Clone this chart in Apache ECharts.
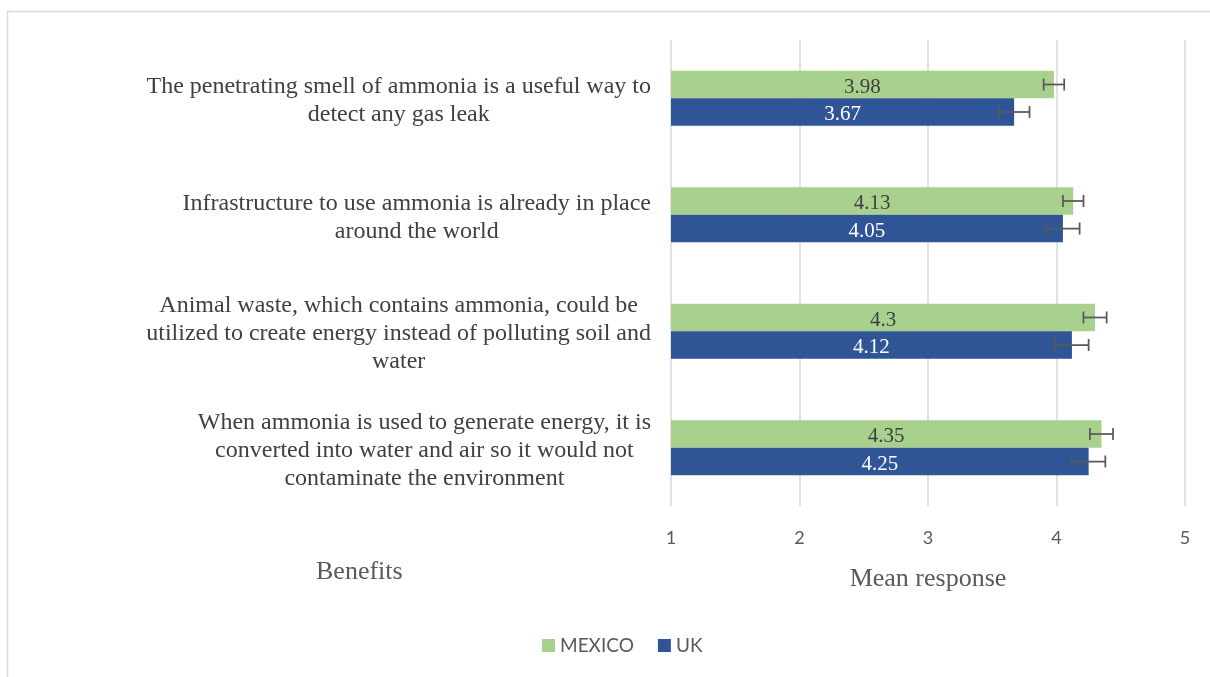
<!DOCTYPE html>
<html>
<head>
<meta charset="utf-8">
<script src="https://cdn.jsdelivr.net/npm/echarts@6/dist/echarts.min.js"></script>
<style>
  html, body { margin: 0; padding: 0; background: #ffffff; }
  #chart { width: 1210px; height: 677px; }
</style>
</head>
<body>
<div id="chart"></div>
<script>
// Survey statements (one per category row, top to bottom)
const categories = [
  'The penetrating smell of ammonia is a useful way to\ndetect any gas leak',
  'Infrastructure to use ammonia is already in place\naround the world',
  'Animal waste, which contains ammonia, could be\nutilized to create energy instead of polluting soil and\nwater',
  'When ammonia is used to generate energy, it is\nconverted into water and air so it would not\ncontaminate the environment'
];
const seriesNames = ['MEXICO', 'UK'];
const mexicoMeans = [3.98, 4.13, 4.3, 4.35];
const ukMeans = [3.67, 4.05, 4.12, 4.25];
// Error margins (±) drawn as whiskers on each bar
const mexicoErr = [0.08, 0.08, 0.09, 0.09];
const ukErr = [0.12, 0.13, 0.13, 0.13];
const xTicks = [1, 2, 3, 4, 5];

const colors = { mexico: '#a9d18e', uk: '#2f5597' };
const BAR_W = 27.5;

const chart = echarts.init(document.getElementById('chart'), null, { renderer: 'canvas' });

function errorSeries(name, means, errs, offsetSign) {
  return {
    type: 'custom',
    name: name + ' error',
    z: 5,
    silent: true,
    legendHoverLink: false,
    data: means.map((m, i) => [i, m - errs[i], m + errs[i]]),
    encode: { x: [1, 2], y: 0 },
    renderItem: function (params, api) {
      const cat = api.value(0);
      const lo = api.coord([api.value(1), cat]);
      const hi = api.coord([api.value(2), cat]);
      const y = lo[1] + offsetSign * BAR_W / 2;
      const cap = 6;
      const style = { stroke: '#595959', lineWidth: 1.75 };
      return {
        type: 'group',
        children: [
          { type: 'line', shape: { x1: lo[0], y1: y, x2: hi[0], y2: y }, style },
          { type: 'line', shape: { x1: lo[0], y1: y - cap, x2: lo[0], y2: y + cap }, style },
          { type: 'line', shape: { x1: hi[0], y1: y - cap, x2: hi[0], y2: y + cap }, style }
        ]
      };
    }
  };
}

const serifFont = '"Liberation Serif", "Times New Roman", serif';
const sansFont = 'Lato, "Open Sans", sans-serif';

chart.setOption({
  animation: false,
  backgroundColor: '#ffffff',
  grid: { left: 671, right: 25, top: 40, bottom: 171, containLabel: false },
  legend: {
    data: seriesNames,
    bottom: 17,
    left: 537,
    itemWidth: 13,
    itemHeight: 13,
    itemGap: 24,
    icon: 'rect',
    textStyle: { fontFamily: sansFont, fontSize: 19, color: '#595959' }
  },
  xAxis: {
    type: 'value',
    min: 1,
    max: 5,
    interval: 1,
    name: 'Mean response',
    nameLocation: 'middle',
    nameGap: 60,
    nameTextStyle: { fontFamily: serifFont, fontSize: 26, color: '#595959' },
    axisLine: { show: false },
    axisTick: { show: false },
    axisLabel: {
      margin: 23,
      fontFamily: sansFont,
      fontSize: 18,
      color: '#595959',
      formatter: v => xTicks.includes(v) ? String(v) : ''
    },
    splitLine: { show: true, lineStyle: { color: '#d9d9d9', width: 1.5 } }
  },
  yAxis: {
    type: 'category',
    inverse: true,
    data: categories,
    axisLine: { show: false },
    axisTick: { show: false },
    axisLabel: {
      margin: 20,
      align: 'right',
      padding: [5, 0, 0, 0],
      fontFamily: serifFont,
      fontSize: 24,
      lineHeight: 28,
      color: '#404040',
      formatter: v => v.split('\n').map(l => '{c|' + l + '}').join('\n'),
      rich: {
        c: { align: 'center', fontFamily: serifFont, fontSize: 24, lineHeight: 28, color: '#404040' }
      }
    }
  },
  graphic: [
    {
      type: 'rect',
      shape: { x: 7.5, y: 11.5, width: 1400, height: 900 },
      style: { fill: 'none', stroke: '#d9d9d9', lineWidth: 1.5 },
      silent: true,
      z: -1
    },
    {
      type: 'text',
      left: 316,
      top: 559,
      style: { text: 'Benefits', fontFamily: serifFont, fontSize: 26, fill: '#595959' }
    }
  ],
  series: [
    {
      name: seriesNames[0],
      type: 'bar',
      barWidth: BAR_W,
      barGap: '0%',
      data: mexicoMeans,
      itemStyle: { color: colors.mexico },
      label: {
        show: true,
        position: 'inside',
        offset: [0, 2.5],
        fontFamily: serifFont,
        fontSize: 21,
        color: '#404040'
      }
    },
    {
      name: seriesNames[1],
      type: 'bar',
      barWidth: BAR_W,
      barGap: '0%',
      data: ukMeans,
      itemStyle: { color: colors.uk },
      label: {
        show: true,
        position: 'inside',
        offset: [0, 2.5],
        fontFamily: serifFont,
        fontSize: 21,
        color: '#ffffff'
      }
    },
    errorSeries(seriesNames[0], mexicoMeans, mexicoErr, -1),
    errorSeries(seriesNames[1], ukMeans, ukErr, 1)
  ]
});
</script>
</body>
</html>
